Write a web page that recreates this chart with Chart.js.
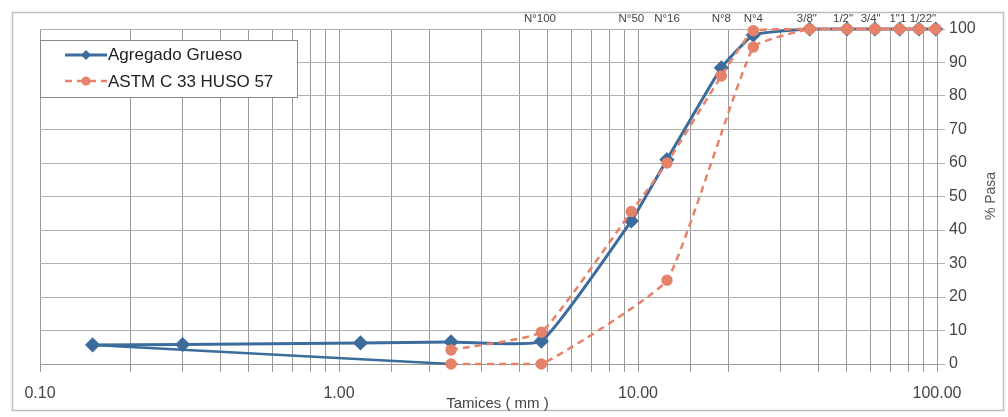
<!DOCTYPE html>
<html>
<head>
<meta charset="utf-8">
<script src="https://cdn.jsdelivr.net/npm/chart.js@4.4.1/dist/chart.umd.min.js"></script>
<style>
html,body{margin:0;padding:0;background:#fff;}
#wrap{position:relative;width:1008px;height:417px;}
</style>
</head>
<body>
<div id="wrap"><canvas id="c" width="1008" height="417"></canvas></div>
<script>
// ---- data ----
const gruesoX = [0.15, 0.30, 1.18, 2.37, 4.75, 9.50, 12.5, 19.0, 24.3, 37.5, 50, 62, 75, 87, 99];
const gruesoY = [5.7, 5.8, 6.3, 6.6, 6.8, 42.7, 61, 88.4, 98.2, 100, 100, 100, 100, 100, 100];
const returnX = [0.15, 2.37];
const returnY = [5.7, 0];
const upperX = [2.37, 4.75, 9.5, 12.5, 19.0, 24.3, 37.5, 50, 62, 75, 87, 99];
const upperY = [4.2, 9.5, 45.5, 60, 86, 99.5, 100, 100, 100, 100, 100, 100];
const lowerX = [2.37, 4.75, 12.5, 24.3, 37.5, 50, 62, 75, 87, 99];
const lowerY = [0, 0, 25, 94.6, 100, 100, 100, 100, 100, 100];
const sieveVals = [4.7, 9.5, 12.5, 19, 24.3, 36.7, 48.5, 60, 74, 89.7];
const sieveLabels = ['N°100', 'N°50', 'N°16', 'N°8', 'N°4', '3/8"', '1/2"', '3/4"', '1"1', '1/22"'];
const yTicks = [0, 10, 20, 30, 40, 50, 60, 70, 80, 90, 100];
const seriesNames = ['Agregado Grueso', 'ASTM C 33 HUSO 57'];
const xTitle = 'Tamices ( mm )';
const yTitle = '% Pasa';

const BLUE = '#3b6c9c';
const ORANGE = '#e5826a';
const FONT = "'Liberation Sans', Arial, sans-serif";

const pts = (xs, ys) => xs.map((x, i) => ({x: x, y: ys[i]}));

const framePlugin = {
  id: 'frame',
  beforeDraw(chart) {
    const ctx = chart.ctx;
    ctx.save();
    ctx.fillStyle = '#fff';
    ctx.fillRect(0, 0, chart.width, chart.height);
    ctx.strokeStyle = '#bdbdbd';
    ctx.lineWidth = 1.5;
    ctx.strokeRect(12.5, 12.5, 991, 398);
    ctx.restore();
  },
  beforeDatasetsDraw(chart) {
    chart.ctx.save();
  },
  afterDraw(chart) {
    const ctx = chart.ctx;
    const xs = chart.scales.x;
    ctx.save();
    ctx.fillStyle = '#444';
    ctx.font = '15px ' + FONT;
    ctx.textAlign = 'center';
    ctx.textBaseline = 'middle';
    ctx.fillText(xTitle, (xs.left + xs.right) / 2 + 9, 404);
    // y title
    ctx.fillStyle = '#555';
    ctx.font = '14px ' + FONT;
    ctx.translate(991, 196);
    ctx.rotate(-Math.PI / 2);
    ctx.fillText(yTitle, 0, 0);
    ctx.restore();

    // legend
    ctx.save();
    ctx.fillStyle = '#fff';
    ctx.fillRect(40, 40, 257, 57);
    ctx.strokeStyle = '#8a8a8a';
    ctx.lineWidth = 1;
    ctx.strokeRect(40.5, 40.5, 257, 57);
    ctx.strokeStyle = BLUE; ctx.lineWidth = 3;
    ctx.beginPath(); ctx.moveTo(65, 55); ctx.lineTo(107, 55); ctx.stroke();
    ctx.fillStyle = BLUE;
    ctx.beginPath(); ctx.moveTo(86, 50); ctx.lineTo(91, 55); ctx.lineTo(86, 60); ctx.lineTo(81, 55); ctx.closePath(); ctx.fill();
    ctx.strokeStyle = ORANGE; ctx.lineWidth = 2.5; ctx.setLineDash([7, 5]);
    ctx.beginPath(); ctx.moveTo(65, 81); ctx.lineTo(107, 81); ctx.stroke();
    ctx.setLineDash([]);
    ctx.fillStyle = ORANGE;
    ctx.beginPath(); ctx.arc(86, 81, 4.5, 0, Math.PI * 2); ctx.fill();
    ctx.fillStyle = '#222';
    ctx.font = '17px ' + FONT;
    ctx.textBaseline = 'middle';
    ctx.textAlign = 'left';
    ctx.fillText(seriesNames[0], 108, 55);
    ctx.fillText(seriesNames[1], 108, 82);
    ctx.restore();
  }
};

new Chart(document.getElementById('c'), {
  type: 'scatter',
  data: {
    datasets: [
      {
        label: seriesNames[0] + ' (retorno)',
        data: pts(returnX, returnY),
        showLine: true, borderColor: BLUE, borderWidth: 2.5,
        pointRadius: 0, order: 3, clip: false
      },
      {
        label: seriesNames[0],
        data: pts(gruesoX, gruesoY),
        showLine: true, borderColor: BLUE, backgroundColor: BLUE, borderWidth: 3,
        pointStyle: 'rectRot', pointRadius: 5.5, pointHoverRadius: 5.5,
        tension: 0.12, order: 2, clip: false
      },
      {
        label: seriesNames[1],
        data: pts(upperX, upperY),
        showLine: true, borderColor: ORANGE, backgroundColor: ORANGE, borderWidth: 2.5,
        borderDash: [7, 5], pointStyle: 'circle', pointRadius: 4.5,
        tension: 0.12, order: 1, clip: false
      },
      {
        label: seriesNames[1] + ' (inferior)',
        data: pts(lowerX, lowerY),
        showLine: true, borderColor: ORANGE, backgroundColor: ORANGE, borderWidth: 2.5,
        borderDash: [7, 5], pointStyle: 'circle', pointRadius: 4.5,
        tension: 0.12, order: 1, clip: false
      }
    ]
  },
  options: {
    responsive: false,
    animation: false,
    layout: {padding: {left: 40, top: 0, right: 0, bottom: 0}},
    plugins: {legend: {display: false}, tooltip: {enabled: false}},
    scales: {
      x: {
        type: 'logarithmic', position: 'bottom', min: 0.1, max: 100,
        afterFit(s) { s.height = 53; },
        grid: {color: '#9a9a9a', lineWidth: 1, tickLength: 8},
        border: {color: '#9a9a9a'},
        ticks: {
          autoSkip: false, maxRotation: 0, padding: 12,
          color: '#444', font: {family: FONT, size: 16},
          callback(v) {
            const l = Math.log10(v);
            return Math.abs(l - Math.round(l)) < 1e-9 ? Number(v).toFixed(2) : '';
          }
        }
      },
      x2: {
        type: 'logarithmic', position: 'top', min: 0.1, max: 100,
        afterFit(s) { s.height = 29; },
        afterBuildTicks(s) { s.ticks = sieveVals.map(v => ({value: v})); },
        grid: {display: false, drawOnChartArea: false, drawTicks: false},
        border: {display: false},
        ticks: {
          autoSkip: false, maxRotation: 0, padding: 3,
          color: '#444', font: {family: FONT, size: 11.5},
          callback(v, i) { return sieveLabels[i]; }
        }
      },
      y: {
        type: 'linear', position: 'right', min: 0, max: 100,
        afterFit(s) { s.width = 71; },
        afterBuildTicks(s) { s.ticks = yTicks.map(v => ({value: v})); },
        grid: {color: '#b0b0b0', lineWidth: 1, tickLength: 8},
        border: {color: '#9a9a9a'},
        ticks: {
          padding: 4, color: '#444', font: {family: FONT, size: 16},
          callback(v) { return String(v); }
        }
      }
    }
  },
  plugins: [framePlugin]
});
</script>
</body>
</html>
